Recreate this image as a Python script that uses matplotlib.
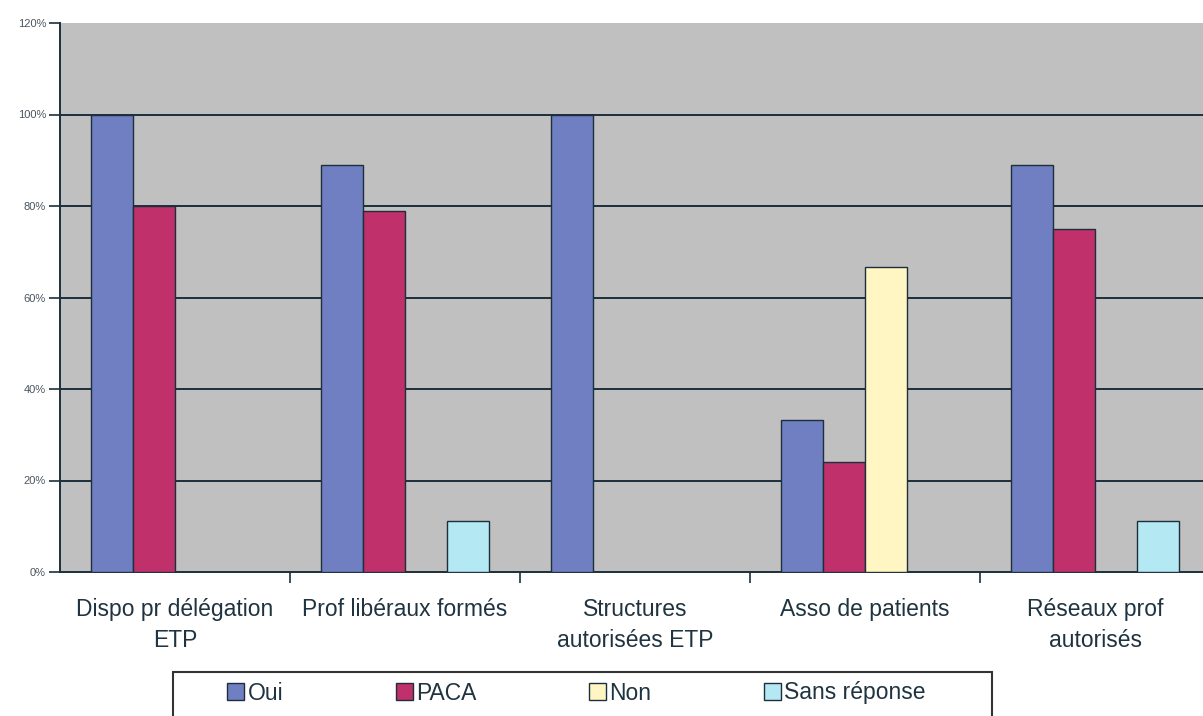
import matplotlib

matplotlib.use("Agg")
import matplotlib.pyplot as plt
from matplotlib.patches import Rectangle
import numpy as np

categories = ["Dispo pr délégation\nETP", "Prof libéraux formés",
              "Structures\nautorisées ETP", "Asso de patients",
              "Réseaux prof\nautorisés"]
series = ["Oui", "PACA", "Non", "Sans réponse"]
oui = [1.00, 0.889, 1.00, 0.333, 0.889]
paca = [0.80, 0.79, 0.0, 0.24, 0.75]
non = [0.0, 0.0, 0.0, 0.667, 0.0]
sans_reponse = [0.0, 0.111, 0.0, 0.0, 0.111]
yticks = [0, 0.2, 0.4, 0.6, 0.8, 1.0, 1.2]
ytick_labels = ["0%", "20%", "40%", "60%", "80%", "100%", "120%"]

colors = ["#6f7fc2", "#c0306a", "#fff6c4", "#b4e8f2"]
edge = "#1c2f3a"
text_color = "#1f3440"

plt.rcParams["font.family"] = ["Liberation Sans", "DejaVu Sans"]

fig = plt.figure(figsize=(12.03, 7.16), dpi=100)
ax = fig.add_axes([60 / 1203, 144 / 716, 1150 / 1203, 549 / 716])
ax.set_facecolor("#c0c0c0")

x = np.arange(len(categories))
width = 42 / 230
values = [oui, paca, non, sans_reponse]
handles = []
for i, (name, vals) in enumerate(zip(series, values)):
    offs = (i - 1.5) * width
    v = np.array(vals, dtype=float)
    v[v == 0] = np.nan
    b = ax.bar(x + offs, v, width, color=colors[i], edgecolor=edge,
               linewidth=1.0, label=name, zorder=3)
    handles.append(b)

ax.set_ylim(0, 1.2)
ax.set_xlim(-0.5, 4.5)
ax.set_yticks(yticks)
ax.set_yticklabels(ytick_labels, fontsize=8, color="#4a5560")
for yv in yticks[1:-1]:
    ax.axhline(yv, color=edge, linewidth=1.4, zorder=2)

ax.set_xticks(np.arange(0.5, 4.5, 1.0))
ax.set_xticklabels([])
ax.tick_params(axis="x", length=8, width=1.2, color=edge, direction="out")
ax.tick_params(axis="y", length=8, width=1.2, color=edge, direction="out", pad=2)
for i, lab in enumerate(categories):
    ax.text(i, -0.056, lab, ha="center", va="top", fontsize=16.5,
            color=text_color, linespacing=1.45)

for s in ["top", "right"]:
    ax.spines[s].set_visible(False)
ax.spines["left"].set_color(edge)
ax.spines["left"].set_linewidth(1.4)
ax.spines["bottom"].set_color(edge)
ax.spines["bottom"].set_linewidth(1.4)

# legend box runs off the bottom of the figure
fig.add_artist(Rectangle((173 / 1203, -0.02), 819 / 1203, 44 / 716 + 0.02,
                         transform=fig.transFigure, fill=False,
                         edgecolor="#333333", linewidth=1.5))
fig.legend(handles=handles, labels=series, ncol=4, loc="center left",
           bbox_to_anchor=(227 / 1203, 1 - 693 / 716), frameon=False,
           fontsize=16.5, handlelength=0.75, handleheight=0.75,
           handletextpad=0.15, columnspacing=4.9, borderpad=0,
           borderaxespad=0, labelcolor=text_color)

fig.savefig("out.png", dpi=100)
